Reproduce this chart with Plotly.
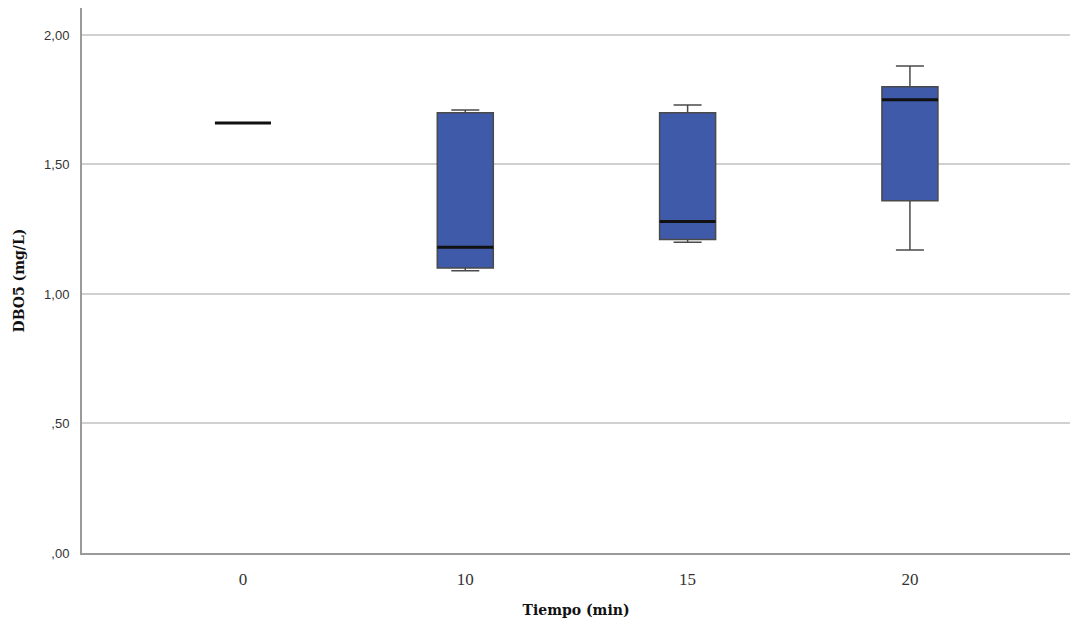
import plotly.graph_objects as go

# DBO5 (mg/L) by time, summary statistics per group
categories = ["0", "10", "15", "20"]
lower_whisker = [1.66, 1.09, 1.20, 1.17]
q1 = [1.66, 1.10, 1.21, 1.36]
median = [1.66, 1.18, 1.28, 1.75]
q3 = [1.66, 1.70, 1.70, 1.80]
upper_whisker = [1.66, 1.71, 1.73, 1.88]

y_tick_vals = [0.0, 0.5, 1.0, 1.5, 2.0]
y_tick_text = [",00", ",50", "1,00", "1,50", "2,00"]

positions = list(range(len(categories)))
box_width = 0.252

fig = go.Figure()

fig.add_trace(go.Box(
    x=positions,
    q1=q1,
    median=median,
    q3=q3,
    lowerfence=lower_whisker,
    upperfence=upper_whisker,
    width=box_width,
    whiskerwidth=0.5,
    fillcolor="#3E5AA8",
    line=dict(color="#4a4a4a", width=1.5),
    boxpoints=False,
    hoverinfo="skip",
    showlegend=False,
))

# thicker median bars on top of each box
for p, m in zip(positions, median):
    fig.add_trace(go.Scatter(
        x=[p - box_width / 2, p + box_width / 2],
        y=[m, m],
        mode="lines",
        line=dict(color="#111111", width=3),
        hoverinfo="skip",
        showlegend=False,
    ))

fig.update_layout(
    width=1070,
    height=622,
    margin=dict(l=82, r=0, t=8, b=69),
    paper_bgcolor="white",
    plot_bgcolor="white",
    xaxis=dict(
        range=[-0.724, 3.72],
        tickvals=positions,
        ticktext=categories,
        showgrid=False,
        zeroline=False,
        showline=True,
        linecolor="#9a9a9a",
        linewidth=2,
        ticks="",
        ticklabelstandoff=10,
        tickfont=dict(family="Liberation Serif", size=17, color="#333333"),
        title=dict(
            text="<b>Tiempo (min)</b>",
            font=dict(family="DejaVu Serif", size=14, color="#111111"),
            standoff=17,
        ),
    ),
    yaxis=dict(
        range=[0, 2.104],
        tickvals=y_tick_vals,
        ticktext=y_tick_text,
        showgrid=True,
        gridcolor="#d0d0d0",
        gridwidth=1.5,
        zeroline=False,
        showline=True,
        linecolor="#9a9a9a",
        linewidth=2,
        ticks="",
        ticklabelstandoff=8,
        tickfont=dict(family="Liberation Sans", size=13, color="#333333"),
        title=dict(
            text="<b>DBO5 (mg/L)</b>",
            font=dict(family="DejaVu Serif", size=14, color="#111111"),
            standoff=16,
        ),
    ),
)

fig.write_html("out.html")
